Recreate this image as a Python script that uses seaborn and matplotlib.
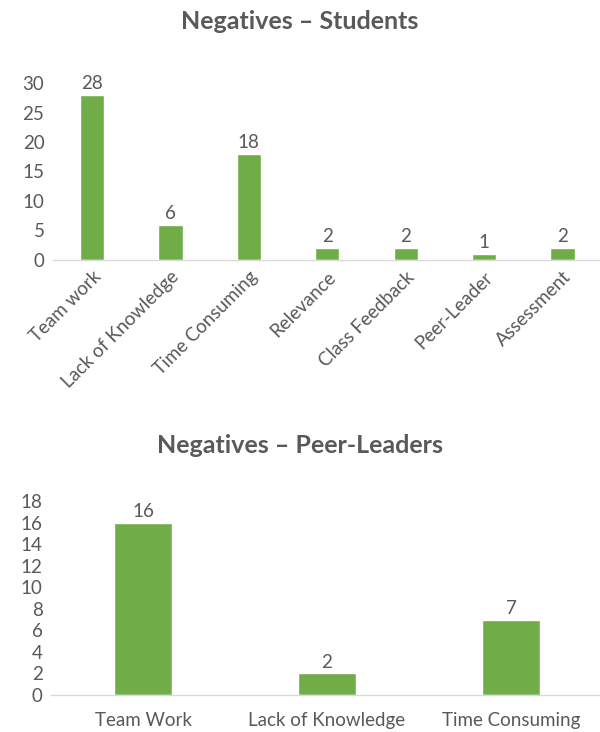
import matplotlib
matplotlib.use("Agg")
import matplotlib.pyplot as plt
import seaborn as sns
import pandas as pd

# Data
student_issues = ["Team work", "Lack of Knowledge", "Time Consuming", "Relevance",
                  "Class Feedback", "Peer-Leader", "Assessment"]
student_counts = [28, 6, 18, 2, 2, 1, 2]

leader_issues = ["Team Work", "Lack of Knowledge", "Time Consuming"]
leader_counts = [16, 2, 7]

BAR_COLOR = "#70AD47"
TEXT_COLOR = "#595959"
AXIS_COLOR = "#D9D9D9"

sns.set_style("white")
plt.rcParams['font.family'] = ['Lato', 'DejaVu Sans']

fig = plt.figure(figsize=(6, 7.32), dpi=100)
ax1 = fig.add_axes([0.088, 0.645, 0.915, 0.2415])
ax2 = fig.add_axes([0.085, 0.0505, 0.92, 0.265])


def style_axis(ax, ymax, step):
    ax.set_ylim(0, ymax)
    ax.set_yticks(range(0, ymax + 1, step))
    ax.set_xlabel("")
    ax.set_ylabel("")
    for side in ["top", "right", "left"]:
        ax.spines[side].set_visible(False)
    ax.spines["bottom"].set_color(AXIS_COLOR)
    ax.spines["bottom"].set_linewidth(1)
    ax.tick_params(axis="both", length=0, labelsize=13.5, labelcolor=TEXT_COLOR)
    ax.tick_params(axis="y", pad=6)


# Students
df_students = pd.DataFrame({"issue": student_issues, "count": student_counts})
sns.barplot(data=df_students, x="issue", y="count", color=BAR_COLOR,
            width=0.31, saturation=1, ax=ax1)
style_axis(ax1, 30, 5)
ax1.set_xlim(-0.5, len(student_issues) - 0.5)
for lbl in ax1.get_xticklabels():
    lbl.set_rotation(45)
    lbl.set_ha("right")
    lbl.set_rotation_mode("anchor")
ax1.tick_params(axis="x", pad=6)
ax1.bar_label(ax1.containers[0], fontsize=13.5, color=TEXT_COLOR, padding=2)
fig.text(0.5, 0.97, "Negatives \u2013 Students", ha="center", va="center",
         fontsize=18, fontweight="bold", color=TEXT_COLOR)

# Peer-leaders
df_leaders = pd.DataFrame({"issue": leader_issues, "count": leader_counts})
sns.barplot(data=df_leaders, x="issue", y="count", color=BAR_COLOR,
            width=0.31, saturation=1, ax=ax2)
style_axis(ax2, 18, 2)
ax2.set_xlim(-0.5, len(leader_issues) - 0.5)
ax2.tick_params(axis="x", pad=12)
ax2.bar_label(ax2.containers[0], fontsize=13.5, color=TEXT_COLOR, padding=2)
fig.text(0.5, 0.392, "Negatives \u2013 Peer-Leaders", ha="center", va="center",
         fontsize=18, fontweight="bold", color=TEXT_COLOR)

plt.savefig("out.png", dpi=100)
